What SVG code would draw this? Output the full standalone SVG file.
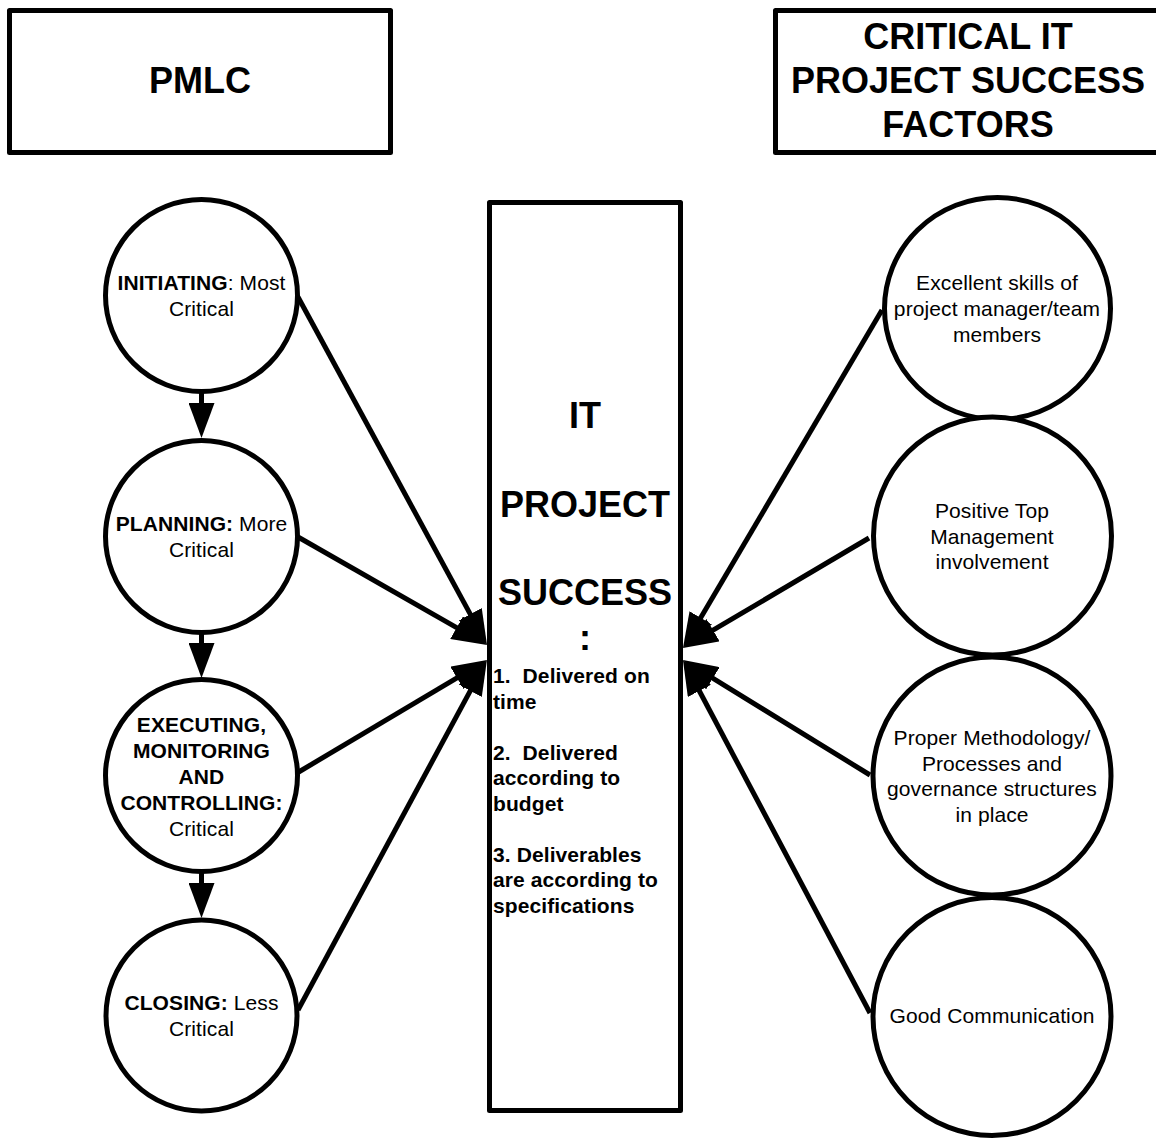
<svg xmlns="http://www.w3.org/2000/svg" width="1156" height="1138" viewBox="0 0 1156 1138">
  <defs>
    <style>
      .box { fill: #fff; stroke: #000; stroke-width: 5; stroke-linejoin: round; }
      .node { fill: #fff; stroke: #000; stroke-width: 5; }
      .head { font-family: "Liberation Sans", Arial, sans-serif; font-size: 36px; font-weight: bold; fill: #000; text-anchor: middle; }
      .lbl { font-family: "Liberation Sans", Arial, sans-serif; font-size: 21px; letter-spacing: 0.1px; fill: #000; text-anchor: middle; }
      .list { font-family: "Liberation Sans", Arial, sans-serif; font-size: 21px; letter-spacing: 0.1px; font-weight: bold; fill: #000; white-space: pre; }
      .b { font-weight: bold; }
      .conn { stroke: #000; stroke-width: 5; fill: none; marker-end: url(#arrow); }
    </style>
    <marker id="arrow" markerUnits="userSpaceOnUse" markerWidth="36" markerHeight="26" refX="5" refY="13" orient="auto">
      <path d="M0,0 L35,13 L0,26 z" fill="#000"/>
    </marker>
  </defs>

  <rect width="1156" height="1138" fill="#fff"/>

  <!-- header boxes -->
  <g id="pmlc">
    <rect class="box" x="9.5" y="10.5" width="381" height="142"/>
    <text class="head" x="200" y="93">PMLC</text>
  </g>
  <g id="factors">
    <rect class="box" x="775.5" y="10.5" width="390" height="142"/>
    <text class="head" x="968" y="49">CRITICAL IT</text>
    <text class="head" x="968" y="93">PROJECT SUCCESS</text>
    <text class="head" x="968" y="137">FACTORS</text>
  </g>

  <!-- central outcome box -->
  <g id="success">
    <rect class="box" x="489.5" y="202.5" width="191" height="908"/>
    <text class="head" x="585" y="428">IT</text>
    <text class="head" x="585" y="517">PROJECT</text>
    <text class="head" x="585" y="605">SUCCESS</text>
    <text class="head" x="585" y="650">:</text>
    <text class="list" x="493" y="683" xml:space="preserve">1.  Delivered on</text>
    <text class="list" x="493" y="708.5">time</text>
    <text class="list" x="493" y="759.5" xml:space="preserve">2.  Delivered</text>
    <text class="list" x="493" y="785">according to</text>
    <text class="list" x="493" y="810.5">budget</text>
    <text class="list" x="493" y="861.5">3. Deliverables</text>
    <text class="list" x="493" y="887">are according to</text>
    <text class="list" x="493" y="912.5">specifications</text>
  </g>

  <!-- PMLC phases -->
  <g id="initiating">
    <circle class="node" cx="201.5" cy="295.5" r="96"/>
    <text class="lbl" x="201.5" y="290"><tspan class="b">INITIATING</tspan>: Most</text>
    <text class="lbl" x="201.5" y="316">Critical</text>
  </g>
  <g id="planning">
    <circle class="node" cx="201.5" cy="536.5" r="96"/>
    <text class="lbl" x="201.5" y="531"><tspan class="b">PLANNING:</tspan> More</text>
    <text class="lbl" x="201.5" y="557">Critical</text>
  </g>
  <g id="executing">
    <circle class="node" cx="201.5" cy="775.5" r="96"/>
    <text class="lbl b" x="201.5" y="732">EXECUTING,</text>
    <text class="lbl b" x="201.5" y="758">MONITORING</text>
    <text class="lbl b" x="201.5" y="784">AND</text>
    <text class="lbl b" x="201.5" y="810">CONTROLLING:</text>
    <text class="lbl" x="201.5" y="836">Critical</text>
  </g>
  <g id="closing">
    <circle class="node" cx="201.5" cy="1015.5" r="95.5"/>
    <text class="lbl" x="201.5" y="1010"><tspan class="b">CLOSING:</tspan> Less</text>
    <text class="lbl" x="201.5" y="1036">Critical</text>
  </g>

  <!-- success factors -->
  <g id="skills">
    <ellipse class="node" cx="997.5" cy="308.5" rx="113" ry="111"/>
    <text class="lbl" x="997" y="290">Excellent skills of</text>
    <text class="lbl" x="997" y="316">project manager/team</text>
    <text class="lbl" x="997" y="342">members</text>
  </g>
  <g id="management">
    <circle class="node" cx="992.5" cy="536" r="119"/>
    <text class="lbl" x="992" y="518">Positive Top</text>
    <text class="lbl" x="992" y="543.5">Management</text>
    <text class="lbl" x="992" y="569">involvement</text>
  </g>
  <g id="methodology">
    <circle class="node" cx="992" cy="776" r="119"/>
    <text class="lbl" x="992" y="745">Proper Methodology/</text>
    <text class="lbl" x="992" y="770.5">Processes and</text>
    <text class="lbl" x="992" y="796">governance structures</text>
    <text class="lbl" x="992" y="821.5">in place</text>
  </g>
  <g id="communication">
    <circle class="node" cx="992" cy="1016.5" r="119"/>
    <text class="lbl" x="992" y="1023">Good Communication</text>
  </g>

  <!-- connectors -->
  <g id="connectors">
    <line class="conn" x1="201.5" y1="392" x2="201.5" y2="408"/>
    <line class="conn" x1="201.5" y1="633" x2="201.5" y2="648"/>
    <line class="conn" x1="201.5" y1="872" x2="201.5" y2="888"/>

    <line class="conn" x1="298" y1="297" x2="472.7" y2="618.6"/>
    <line class="conn" x1="298" y1="537" x2="461" y2="630.1"/>
    <line class="conn" x1="297" y1="773" x2="461.2" y2="675.3"/>
    <line class="conn" x1="298" y1="1010" x2="472.7" y2="686.4"/>

    <line class="conn" x1="882" y1="310" x2="698.2" y2="622.1"/>
    <line class="conn" x1="869" y1="538" x2="708.8" y2="632.7"/>
    <line class="conn" x1="870" y1="775" x2="708.6" y2="675.7"/>
    <line class="conn" x1="870" y1="1013" x2="697" y2="686.5"/>
  </g>
</svg>
